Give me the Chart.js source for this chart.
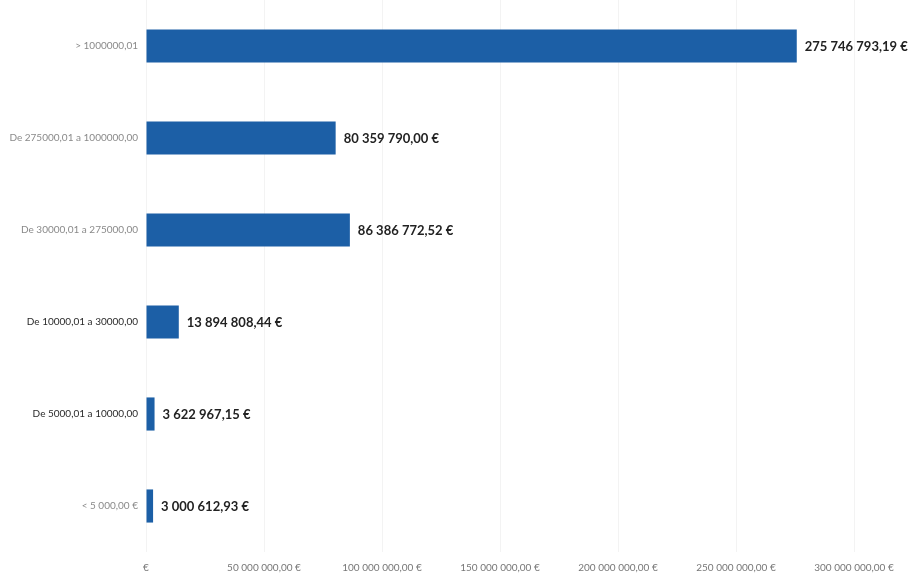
<!DOCTYPE html>
<html>
<head>
<meta charset="utf-8">
<script src="https://cdn.jsdelivr.net/npm/chart.js@4/dist/chart.umd.min.js"></script>
<style>
html,body{margin:0;padding:0;background:#fff;}
#wrap{width:912px;height:576px;position:relative;}
</style>
</head>
<body>
<div id="wrap"><canvas id="c" width="912" height="576"></canvas></div>
<script>
const categories = [
  "> 1000000,01",
  "De 275000,01 a 1000000,00",
  "De 30000,01 a 275000,00",
  "De 10000,01 a 30000,00",
  "De 5000,01 a 10000,00",
  "< 5 000,00 €"
];
const amounts = [275746793.19, 80359790.00, 86386772.52, 13894808.44, 3622967.15, 3000612.93];
const valueLabels = ["275 746 793,19 €", "80 359 790,00 €", "86 386 772,52 €", "13 894 808,44 €", "3 622 967,15 €", "3 000 612,93 €"];
const tickValues = [0, 50000000, 100000000, 150000000, 200000000, 250000000, 300000000];
const tickLabels = ["€", "50 000 000,00 €", "100 000 000,00 €", "150 000 000,00 €", "200 000 000,00 €", "250 000 000,00 €", "300 000 000,00 €"];

const labelColors = ['#8a8a8a','#8a8a8a','#8a8a8a','#2a2a2a','#2a2a2a','#8a8a8a'];

const valueLabelPlugin = {
  id: 'valueLabels',
  afterDatasetsDraw(chart) {
    const ctx = chart.ctx;
    const meta = chart.getDatasetMeta(0);
    ctx.save();
    ctx.font = 'bold 13px Lato, "Open Sans", sans-serif';
    ctx.fillStyle = '#222';
    ctx.textAlign = 'left';
    ctx.textBaseline = 'middle';
    meta.data.forEach((bar, i) => {
      const p = bar.getProps(['x','y'], true);
      ctx.fillText(valueLabels[i], Math.max(p.x, chart.chartArea.left + 6) + 8, p.y + 1);
    });
    ctx.restore();
  }
};

new Chart(document.getElementById('c'), {
  type: 'bar',
  data: {
    labels: categories,
    datasets: [{
      data: amounts,
      backgroundColor: '#1c5fa6',
      borderWidth: 0,
      categoryPercentage: 1.0,
      barPercentage: 0.36,
      minBarLength: 6
    }]
  },
  options: {
    indexAxis: 'y',
    responsive: false,
    animation: false,
    layout: { padding: { left: 0, right: 58, top: 0, bottom: 0 } },
    plugins: { legend: { display: false }, tooltip: { enabled: false } },
    scales: {
      x: {
        min: 0,
        max: 300000000,
        afterBuildTicks(axis) { axis.ticks = tickValues.map(v => ({ value: v })); },
        afterFit(axis) { axis.height = 24; },
        grid: { color: '#f3f3f3', drawTicks: false, lineWidth: 1 },
        border: { display: false },
        ticks: {
          padding: 10,
          color: '#777',
          font: { family: 'Lato, "Open Sans", sans-serif', size: 10 },
          maxRotation: 0,
          autoSkip: false,
          callback: (v, i) => tickLabels[i]
        }
      },
      y: {
        grid: { display: false, drawTicks: false },
        border: { display: false },
        afterFit(axis) { axis.width = 146; axis.paddingTop = 0; axis.paddingBottom = 0; },
        ticks: {
          padding: 8,
          color: (c) => labelColors[c.index],
          font: { family: 'Lato, "Open Sans", sans-serif', size: 10 }
        }
      }
    }
  },
  plugins: [valueLabelPlugin]
});
</script>
</body>
</html>
